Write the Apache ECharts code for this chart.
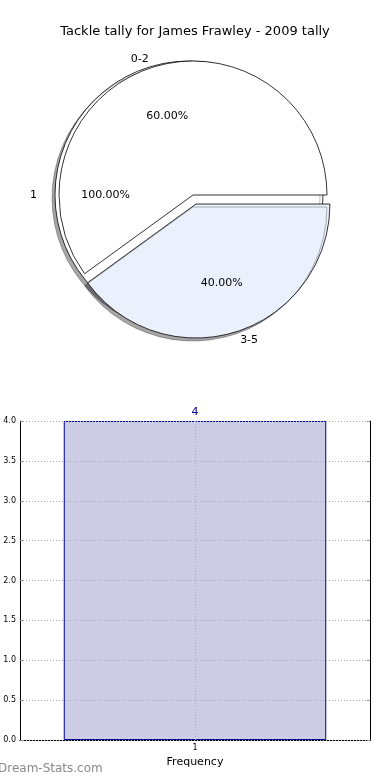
<!DOCTYPE html>
<html>
<head>
<meta charset="utf-8">
<script src="https://cdn.jsdelivr.net/npm/echarts@6/dist/echarts.min.js"></script>
<style>html,body{margin:0;padding:0;background:#fff;}#c{width:390px;height:780px;}</style>
</head>
<body>
<div id="c"></div>
<script>
// ---- data ----
var titleText = 'Tackle tally for James Frawley - 2009 tally';
var pieA_names = ['1'];
var pieA_values = [100];
var pieB_names = ['0-2', '3-5'];
var pieB_values = [60, 40];
var pieB_colors = ['#ffffff', '#eaf0fc'];
var barCategories = ['1'];
var barValues = [4];
var yTicks = [0, 0.5, 1, 1.5, 2, 2.5, 3, 3.5, 4];

var FONT = 'DejaVu Sans';
var R = 134;
var CX = 193, CY = 195;

function pct(p) { return p.percent.toFixed(2) + '%'; }
var shadow = {shadowColor: 'rgba(0,0,0,0.35)', shadowBlur: 0, shadowOffsetX: -3, shadowOffsetY: 3};
var noShadow = {shadowColor: 'rgba(0,0,0,0)', shadowBlur: 0};

var pieAData = pieA_names.map(function (n, i) {
  return {name: n, value: pieA_values[i], selected: true,
    itemStyle: Object.assign({color: '#ffffff', borderColor: '#000', borderWidth: 0.8}, shadow)};
});
var pieBData = pieB_names.map(function (n, i) {
  return {name: n, value: pieB_values[i], selected: i === 1,
    itemStyle: Object.assign({color: pieB_colors[i], borderColor: '#000', borderWidth: 0.8}, i === 1 ? shadow : noShadow)};
});
function overlay(data) {
  return data.map(function (d) {
    return {name: d.name, value: d.value, selected: d.selected, itemStyle: {color: 'rgba(0,0,0,0)', borderWidth: 0}};
  });
}
var outsideLabel = {show: true, position: 'outside', color: '#000', fontFamily: FONT, fontSize: 11,
  formatter: '{b}', distanceToLabelLine: 0};
var insideLabel = {show: true, position: 'inside', color: '#000', fontFamily: FONT, fontSize: 11, formatter: pct};
var commonPie = {type: 'pie', clockwise: false, startAngle: 0, center: [CX, CY], silent: true,
  emphasis: {disabled: true}, animation: false, avoidLabelOverlap: false, selectedMode: 'multiple'};

var chart = echarts.init(document.getElementById('c'), null, {renderer: 'canvas'});
chart.setOption({
  animation: false,
  title: {text: titleText, left: 'center', top: 20, textStyle: {fontFamily: FONT, fontSize: 13, fontWeight: 'normal', color: '#000'}},
  grid: {left: 20, right: 20, top: 421, bottom: 40},
  xAxis: [
    {type: 'category', data: barCategories, boundaryGap: true, position: 'bottom',
      axisLine: {lineStyle: {color: '#000', width: 1}},
      axisTick: {show: true, alignWithLabel: true, inside: true, length: 3, lineStyle: {color: '#888'}},
      axisLabel: {fontFamily: FONT, fontSize: 8, color: '#000', margin: 4},
      name: 'Frequency', nameLocation: 'middle', nameGap: 17,
      nameTextStyle: {fontFamily: FONT, fontSize: 11, color: '#000'},
      splitLine: {show: false}},
    {type: 'category', data: barCategories, position: 'top',
      axisLine: {lineStyle: {color: '#000', width: 1}}, axisTick: {show: false}, axisLabel: {show: false}}
  ],
  yAxis: [
    {type: 'value', min: 0, max: 4, interval: 0.5, z: 5,
      axisLine: {show: true, lineStyle: {color: '#000', width: 1}},
      axisTick: {show: true, inside: true, length: 3, lineStyle: {color: '#888'}},
      axisLabel: {fontFamily: FONT, fontSize: 8, color: '#000', margin: 4,
        formatter: function (v) { return v.toFixed(1); }},
      splitLine: {show: true, lineStyle: {color: '#aaa', type: [1, 2], width: 1}}},
    {type: 'value', min: 0, max: 4, interval: 0.5, position: 'right',
      axisLine: {show: true, lineStyle: {color: '#000', width: 1}},
      axisTick: {show: true, inside: true, length: 3, lineStyle: {color: '#888'}},
      axisLabel: {show: false}, splitLine: {show: false}}
  ],
  series: [
    Object.assign({}, commonPie, {name: 'A', radius: [0, R], selectedOffset: 4, data: pieAData,
      label: outsideLabel, labelLine: {show: false, length: 18, length2: 0}}),
    Object.assign({}, commonPie, {name: 'B', radius: [0, R], selectedOffset: 9.5, data: pieBData,
      label: outsideLabel, labelLine: {show: false, length: 9, length2: 0}}),
    Object.assign({}, commonPie, {name: 'A2', radius: [R * 0.2, R], selectedOffset: 4, data: overlay(pieAData),
      label: insideLabel, labelLine: {show: false}}),
    Object.assign({}, commonPie, {name: 'B2', radius: [R * 0.2, R], selectedOffset: 9.5, data: overlay(pieBData),
      label: insideLabel, labelLine: {show: false}}),
    {type: 'bar', xAxisIndex: 0, yAxisIndex: 0, data: barValues, barWidth: '75%', silent: true,
      itemStyle: {color: '#ccccE4', borderColor: '#000099', borderWidth: 1},
      label: {show: true, position: 'top', distance: 3, color: '#000099', fontFamily: FONT, fontSize: 11},
      markLine: {silent: true, symbol: 'none', label: {show: false}, z: 6,
        lineStyle: {color: '#aaa', type: [1, 2], width: 1},
        data: barCategories.map(function (c) { return {xAxis: c}; })}}
  ],
  graphic: [{type: 'text', left: -2, top: 763,
    style: {text: 'Dream-Stats.com', fill: '#8a8a8a', fontFamily: FONT, fontSize: 12, fontWeight: 'normal'}}]
});
</script>
</body>
</html>
